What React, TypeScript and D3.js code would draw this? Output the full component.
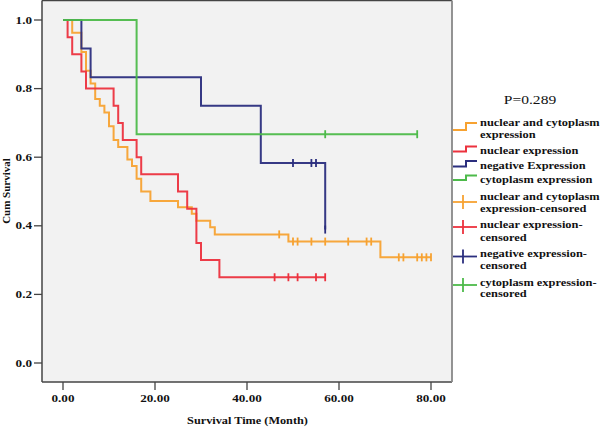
import * as d3 from "d3";
import React from "react";

// groups (order as in legend)
const groupNames = ["nuclear and cytoplasm expression", "nuclear expression", "negative Expression", "cytoplasm expression"];
const groupColors = ["#F7A231", "#EC323E", "#2B2E7E", "#4DBA4A"];

// event times / survival after the step / censored times
const ncTimes = [2, 4, 5, 6, 7, 8, 9, 10, 11, 12, 14, 15, 16, 17, 19, 25, 28, 29, 32, 33, 49, 69];
const ncSurv = [0.963, 0.907, 0.852, 0.815, 0.77, 0.75, 0.73, 0.69, 0.65, 0.63, 0.593, 0.574, 0.537, 0.5, 0.472, 0.454, 0.435, 0.415, 0.396, 0.375, 0.354, 0.308];
const ncCens = [47, 50, 51, 54, 57, 62, 66, 67, 73, 74, 77, 78, 79, 80];

const nuTimes = [1, 2, 4, 5, 11, 12, 13, 16, 17, 25, 27, 29, 30, 34];
const nuSurv = [0.95, 0.9, 0.85, 0.8, 0.75, 0.7, 0.65, 0.6, 0.55, 0.5, 0.45, 0.35, 0.3, 0.25];
const nuCens = [46, 49, 51, 55, 57];

const negTimes = [4, 6, 30, 43, 57];
const negSurv = [0.917, 0.833, 0.75, 0.583, 0.389];
const negCens = [50, 54, 55, 57];

const cyTimes = [16];
const cySurv = [0.667];
const cyCens = [57, 77];

const yTicks = [0, 0.2, 0.4, 0.6, 0.8, 1.0];
const xTicks = [0, 20, 40, 60, 80];

const legendLines = [
  ["nuclear and cytoplasm", "expression"],
  ["nuclear expression"],
  ["negative Expression"],
  ["cytoplasm expression"],
  ["nuclear and cytoplasm", "expression-censored"],
  ["nuclear expression-", "censored"],
  ["negative expression-", "censored"],
  ["cytoplasm expression-", "censored"],
];
const pValue = "P=0.289";

const FONT = "'Liberation Serif', 'Times New Roman', serif";

const ST: React.FC<{ x: number; y: number; sx?: number; size: number; anchor?: string; bold?: boolean; children: React.ReactNode }>
= ({ x, y, sx = 1, size, anchor = "start", bold = true, children }) => (
  <text transform={`translate(${x},${y}) scale(${sx},1)`} textAnchor={anchor} fontSize={size}
    fontWeight={bold ? "bold" : "normal"} fontFamily={FONT} fill="#111">{children}</text>
);

export default function App() {
  const W = 600, H = 432;
  const frame = { left: 42, right: 452, top: 0.5, bottom: 382 };
  const x = d3.scaleLinear().domain([0, 80]).range([63, 431]);
  const y = d3.scaleLinear().domain([0, 1]).range([363, 20]);

  const groups = [
    { times: ncTimes, surv: ncSurv, cens: ncCens },
    { times: nuTimes, surv: nuSurv, cens: nuCens },
    { times: negTimes, surv: negSurv, cens: negCens },
    { times: cyTimes, surv: cySurv, cens: cyCens },
  ];

  const line = d3.line<[number, number]>().x(d => x(d[0])).y(d => y(d[1])).curve(d3.curveStepAfter);

  const survAt = (g: typeof groups[number], t: number) => {
    let s = 1;
    g.times.forEach((tt, i) => { if (tt <= t) s = g.surv[i]; });
    return s;
  };

  // legend geometry
  const lx0 = 453, lx1 = 466, lx2 = 477;
  const stepY = [[130, 123], [151.5, 146.5], [166.5, 161], [180, 175.5]];
  const censY = [202, 227, 256.5, 285];
  const textBase = [[126, 138], [154], [169], [183], [199.5, 211.5], [228, 240.5], [256.5, 269], [285.5, 297]];

  return (
    <svg width={W} height={H} style={{ position: "absolute", left: 0, top: 0, background: "#fff" }}>
      <rect x={frame.left} y={frame.top} width={frame.right - frame.left} height={frame.bottom - frame.top} fill="#F2F2F2" />

      {groups.map((g, i) => {
        const end = Math.max(d3.max(g.cens) ?? 0, d3.max(g.times) ?? 0);
        const pts: [number, number][] = [[0, 1], ...g.times.map((t, k) => [t, g.surv[k]] as [number, number]), [end, survAt(g, end)]];
        return (
          <g key={i}>
            <path d={line(pts) ?? undefined} fill="none" stroke={groupColors[i]} strokeWidth={2} opacity={0.95} />
            {g.cens.map((c, k) => (
              <line key={k} x1={x(c)} x2={x(c)} y1={y(survAt(g, c)) - 4} y2={y(survAt(g, c)) + 4}
                stroke={groupColors[i]} strokeWidth={1.8} />
            ))}
          </g>
        );
      })}

      {/* frame */}
      <line x1={frame.left} x2={frame.right} y1={frame.top} y2={frame.top} stroke="#444" strokeWidth={1.5} />
      <line x1={frame.left} x2={frame.left} y1={frame.top} y2={frame.bottom} stroke="#444" strokeWidth={1.5} />
      <line x1={frame.left} x2={frame.right} y1={frame.bottom} y2={frame.bottom} stroke="#444" strokeWidth={1.5} />
      <line x1={frame.right} x2={frame.right} y1={frame.top} y2={frame.bottom} stroke="#888" strokeWidth={1.8} />

      {yTicks.map(t => (
        <g key={t}>
          <line x1={34} x2={frame.left} y1={y(t)} y2={y(t)} stroke="#444" strokeWidth={1.3} />
          <ST x={32} y={y(t) + 3.6} sx={1.25} size={10.5} anchor="end">{t.toFixed(1)}</ST>
        </g>
      ))}
      {xTicks.map(t => (
        <g key={t}>
          <line x1={x(t)} x2={x(t)} y1={frame.bottom} y2={frame.bottom + 8} stroke="#444" strokeWidth={1.3} />
          <ST x={x(t)} y={401.5} sx={1.25} size={10.5} anchor="middle">{t.toFixed(2)}</ST>
        </g>
      ))}

      <ST x={247.5} y={424} sx={1.17} size={10.5} anchor="middle">Survival Time (Month)</ST>
      <text transform="translate(10,191) rotate(-90)" textAnchor="middle" fontSize={11} fontWeight="bold" fontFamily={FONT} fill="#111">Cum Survival</text>

      {/* legend */}
      <ST x={530} y={104} sx={1.15} size={13.5} anchor="middle" bold={false}>{pValue}</ST>
      {groupNames.map((n, i) => (
        <path key={n} d={`M${lx0},${stepY[i][0]}H${lx1}V${stepY[i][1]}H${lx2}`} fill="none" stroke={groupColors[i]} strokeWidth={2} />
      ))}
      {groupNames.map((n, i) => (
        <g key={n + "c"}>
          <line x1={lx0} x2={lx2} y1={censY[i]} y2={censY[i]} stroke={groupColors[i]} strokeWidth={1.8} />
          <line x1={463} x2={463} y1={censY[i] - 7} y2={censY[i] + 7} stroke={groupColors[i]} strokeWidth={1.8} />
        </g>
      ))}
      {legendLines.map((ls, i) => ls.map((l, k) => (
        <ST key={i + "-" + k} x={480} y={textBase[i][k]} sx={1.15} size={10.8}>{l}</ST>
      )))}
    </svg>
  );
}
